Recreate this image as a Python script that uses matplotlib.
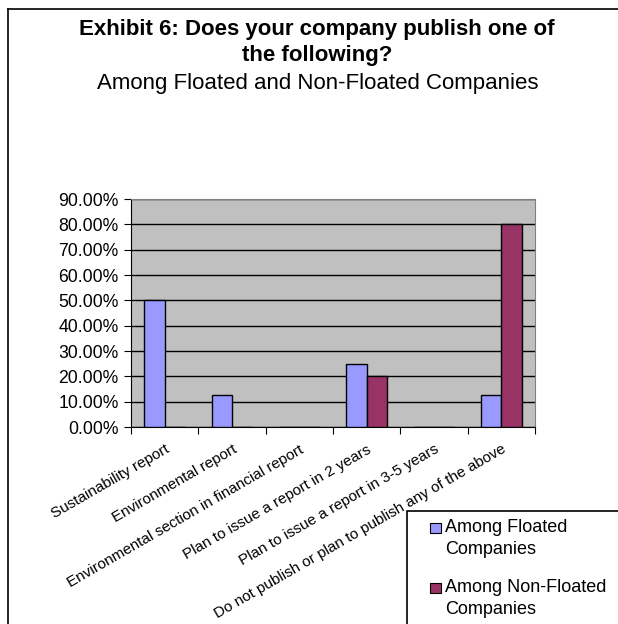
import matplotlib
matplotlib.use("Agg")
import matplotlib.pyplot as plt
import numpy as np
from matplotlib.patches import Rectangle
from matplotlib.lines import Line2D
from matplotlib.ticker import FuncFormatter, MultipleLocator

categories = [
    "Sustainability report",
    "Environmental report",
    "Environmental section in financial report",
    "Plan to issue a report in 2 years",
    "Plan to issue a report in 3-5 years",
    "Do not publish or plan to publish any of the above",
]
floated = [50.0, 12.5, 0.0, 25.0, 0.0, 12.5]
non_floated = [0.0, 0.0, 0.0, 20.0, 0.0, 80.0]
series_names = ["Among Floated\nCompanies", "Among Non-Floated\nCompanies"]
colors = ["#9999FF", "#993366"]

plt.rcParams['font.family'] = ['Liberation Sans', 'DejaVu Sans']

W, H = 618, 624
fig = plt.figure(figsize=(W / 100, H / 100), dpi=100)

def fx(px):
    return px / W

def fy(py):
    return 1 - py / H

# outer frame (top and left visible)
fig.add_artist(Line2D([fx(8), fx(618)], [fy(9), fy(9)], color="black", lw=1.2, transform=fig.transFigure))
fig.add_artist(Line2D([fx(8), fx(8)], [fy(9), fy(624)], color="black", lw=1.2, transform=fig.transFigure))

# titles
fig.text(fx(317), fy(29), "Exhibit 6: Does your company publish one of", ha="center", va="center",
         fontsize=16, fontweight="bold")
fig.text(fx(317), fy(56), "the following?", ha="center", va="center", fontsize=16, fontweight="bold")
fig.text(fx(318), fy(83), "Among Floated and Non-Floated Companies", ha="center", va="center", fontsize=16)

ax = fig.add_axes([fx(131), fy(427), fx(535) - fx(131), fy(199) - fy(427)])
ax.set_facecolor("#C0C0C0")
x = np.arange(len(categories))
bw = 0.3
ax.bar(x - bw / 2, floated, bw, color=colors[0], edgecolor="black", lw=1.0, zorder=3)
ax.bar(x + bw / 2, non_floated, bw, color=colors[1], edgecolor="black", lw=1.0, zorder=3)

ax.set_xlim(-0.5, len(categories) - 0.5)
ax.set_ylim(0, 90)
ax.yaxis.set_major_locator(MultipleLocator(10))
ax.yaxis.set_major_formatter(FuncFormatter(lambda v, p: f"{v:.2f}%"))
ax.yaxis.grid(True, color="black", lw=1.0, zorder=1)
ax.set_axisbelow(True)
for s in ["top", "right"]:
    ax.spines[s].set_color("#808080")
for s in ["left", "bottom"]:
    ax.spines[s].set_color("black")

ax.set_xticks(np.arange(len(categories) + 1) - 0.5)
ax.set_xticklabels([])
ax.set_xticks(x, minor=True)
ax.set_xticklabels(categories, minor=True, rotation=30, ha="right", rotation_mode="anchor", fontsize=11)
ax.tick_params(axis="x", which="minor", length=0, pad=11)
ax.tick_params(axis="x", which="major", length=5, direction="out", color="black")
ax.tick_params(axis="y", length=5, direction="out", labelsize=12.7, pad=4)

# legend box (extends past figure edge), drawn beneath the axis labels
fig.add_artist(Rectangle((fx(407), fy(630)), fx(630) - fx(407), fy(511) - fy(630),
                         transform=fig.transFigure, facecolor="white", edgecolor="black", lw=1.2,
                         zorder=-1))
entries_y = [(528, 550), (588, 609)]
for (y1, y2), c, name in zip(entries_y, colors, series_names):
    fig.add_artist(Rectangle((fx(430), fy(y1 + 5)), fx(441) - fx(430), fy(y1 - 5) - fy(y1 + 5),
                             transform=fig.transFigure, facecolor=c, edgecolor="black", lw=0.8))
    fig.text(fx(445), fy(y1), name.split("\n")[0], ha="left", va="center", fontsize=13)
    fig.text(fx(445), fy(y2), name.split("\n")[1], ha="left", va="center", fontsize=13)

fig.savefig("out.png", dpi=100, facecolor="white")
